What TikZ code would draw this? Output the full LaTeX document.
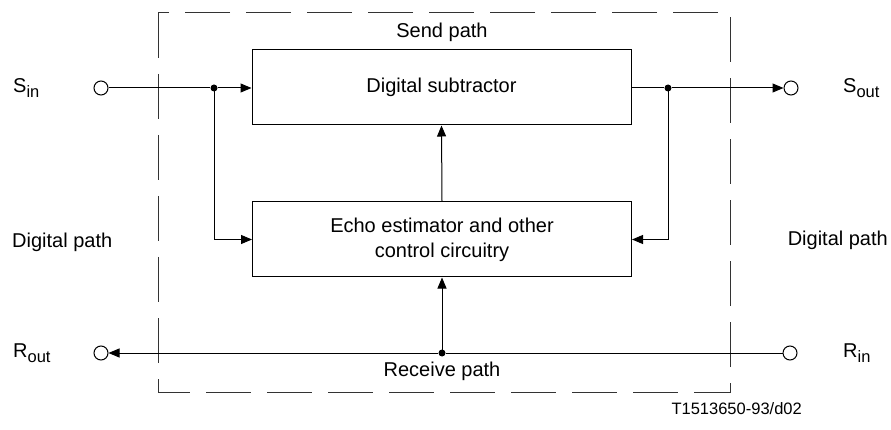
\documentclass[tikz,border=0pt]{standalone}
\usepackage{fontspec}
\setmainfont{Liberation Sans}
\usetikzlibrary{arrows.meta}
\newcommand{\sub}[1]{\raisebox{-0.45ex}{\fontsize{16.5}{16.5}\selectfont #1}}
\begin{document}
\begin{tikzpicture}[x=1pt,y=-1pt,
  every node/.style={font=\fontsize{20}{25}\selectfont, inner sep=0pt},
  blockbox/.style={draw, line width=1pt, minimum width=379pt, minimum height=75pt, align=center},
  wire/.style={line width=1pt},
  arr/.style={wire, -{Triangle[length=11pt,width=9pt]}},
  port/.style={circle, draw, fill=white, line width=1pt, minimum size=14pt},
  dotnode/.style={circle, fill=black, minimum size=7pt},
  frame/.style={line width=1pt, dash pattern=on 45pt off 16pt, black!80}
]
\useasboundingbox (0,0) rectangle (891,430);
% dashed frame
\draw[frame] (158,13) rectangle (730,392);
% blocks
\node[blockbox] (sub) at (441.5,87.5) {Digital subtractor};
\node[blockbox] (echo) at (442,239.5) {Echo estimator and other\\control circuitry};
% ports
\node[port] (sin) at (101,88) {};
\node[port] (sout) at (791,88) {};
\node[port] (rout) at (101,353) {};
\node[port] (rin) at (790,353) {};
% junctions
\node[dotnode] (j1) at (214,88) {};
\node[dotnode] (j2) at (668,88) {};
\node[dotnode] (j3) at (442,353) {};
% connectors
\draw[wire] (sin) -- (j1);
\draw[arr] (j1) -- (sub.west |- j1);
\draw[arr] (j1.center) |- (echo.west);
\draw[wire] (sub.east |- j2) -- (j2);
\draw[arr] (j2) -- (sout);
\draw[arr] (j2.center) |- (echo.east);
\draw[arr] (echo.north) -- (sub.south);
\draw[wire] (rin) -- (j3);
\draw[arr] (j3) -- (rout);
\draw[arr] (j3.center) -- (echo.south);
% labels
\node[anchor=west] (lsin) at (13,88) {S\sub{in}};
\node[anchor=west] (lsout) at (843,88) {S\sub{out}};
\node[anchor=west] (lrout) at (13,353) {R\sub{out}};
\node[anchor=west] (lrin) at (843,353) {R\sub{in}};
\node (send) at (442,32) {Send path};
\node (recv) at (442,371) {Receive path};
\node[anchor=west] (dpl) at (12,242) {Digital path};
\node[anchor=east] (dpr) at (888,240) {Digital path};
\node[anchor=east, font=\fontsize{16.5}{20}\selectfont] (code) at (802,409) {T1513650-93/d02};
\end{tikzpicture}
\end{document}
